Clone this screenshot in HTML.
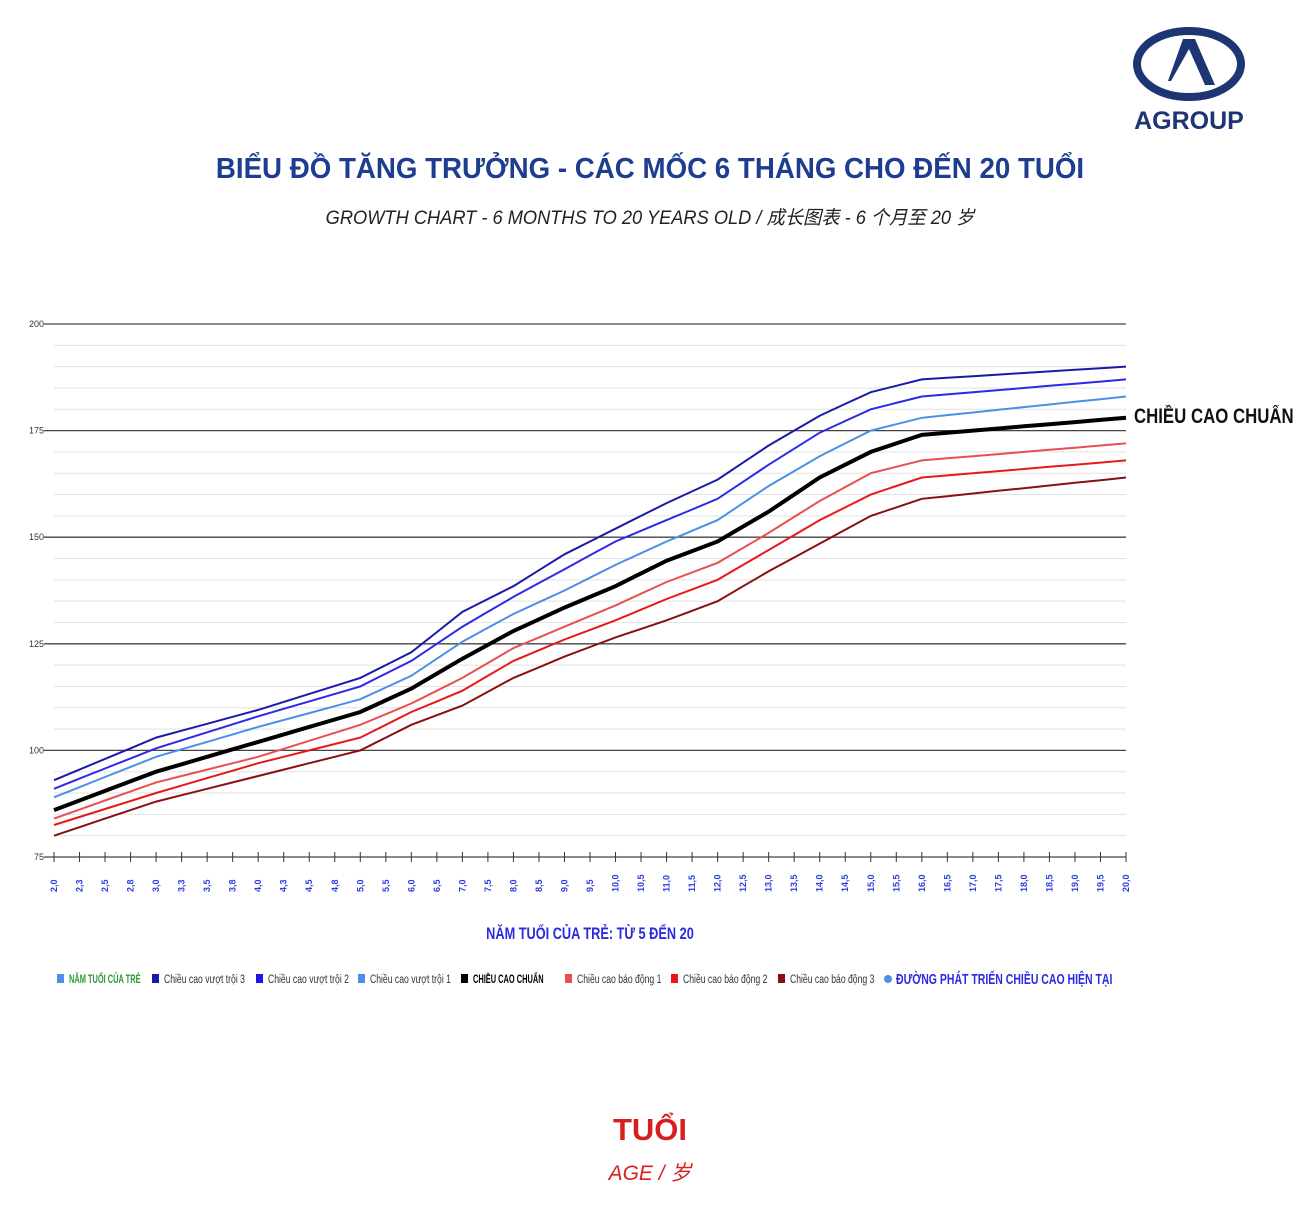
<!DOCTYPE html>
<html><head><meta charset="utf-8"><style>
body{margin:0;width:1300px;height:1208px;background:#fff;position:relative;overflow:hidden;font-family:"Liberation Sans","Noto Sans CJK SC",sans-serif}
.t{position:absolute;left:0;width:1300px;text-align:center}
</style></head><body>
<svg width="130" height="110" style="position:absolute;left:1125px;top:25px" viewBox="0 0 130 110">
<ellipse cx="64" cy="39" rx="52" ry="33" fill="none" stroke="#1d3573" stroke-width="8"/>
<polygon points="58,14 70,14 90,60 80,60 64,24 46,56 43,56" fill="#1d3573"/>
<text x="64" y="104" text-anchor="middle" font-family="Liberation Sans" font-weight="bold" font-size="25" fill="#1d3573">AGROUP</text>
</svg>
<div class="t" style="top:153px;font-size:29px;font-weight:bold;color:#1e3d8f;transform:scaleX(0.955)">BIỂU ĐỒ TĂNG TRƯỞNG - CÁC MỐC 6 THÁNG CHO ĐẾN 20 TUỔI</div>
<div class="t" style="top:203px;font-size:19px;font-style:italic;color:#222;transform:scaleX(0.96)">GROWTH CHART - 6 MONTHS TO 20 YEARS OLD / 成长图表 - 6 个月至 20 岁</div>
<div style="position:absolute;left:1134px;top:405px;font-size:21px;font-weight:bold;color:#111;white-space:nowrap;transform:scaleX(0.8);transform-origin:left">CHIỀU CAO CHUẨN</div>
<svg id="c" width="1300" height="1208" style="position:absolute;left:0;top:0"></svg>
<div class="t" style="top:1112px;font-size:31px;font-weight:bold;color:#d81f1f;">TUỔI</div>
<div class="t" style="top:1157px;font-size:21px;font-style:italic;color:#d81f1f;">AGE / 岁</div>
<script>
var s='',X0=54,X1=1126,dx=(X1-X0)/42;
function Y(v){return 857-(v-75)*533/125}
for(var v=75;v<=200;v+=5){var y=Y(v);var major=v%25==0;
s+='<line x1="'+(major?44:54)+'" x2="1126" y1="'+y+'" y2="'+y+'" stroke="'+(major?'#444':'#e2e2e2')+'" stroke-width="'+(major?1.3:1)+'"/>';
if(major)s+='<text x="44" y="'+(y+3)+'" font-size="9" text-anchor="end" fill="#333">'+v+'</text>';}
var labs=['2,0','2,3','2,5','2,8','3,0','3,3','3,5','3,8','4,0','4,3','4,5','4,8'];
for(var a=5;a<=20;a+=0.5)labs.push(a.toFixed(1).replace('.',','));
for(var i=0;i<43;i++){var x=X0+i*dx;s+='<line x1="'+x+'" x2="'+x+'" y1="852" y2="862" stroke="#333"/>';
s+='<text transform="translate('+(x+3)+',892) rotate(-90)" font-size="9" font-weight="bold" fill="#2a3ee0">'+labs[i]+'</text>';}
// index of age: 2->0,3->4,4->8,5->12, then age a -> 12+(a-5)*2
function ser(m){var keys=Object.keys(m).map(Number).sort(function(a,b){return a-b});var out=[];
for(var i=0;i<=42;i++){var v;if(m[i]!==undefined)v=m[i];else{for(var j=0;j<keys.length-1;j++)if(keys[j]<i&&keys[j+1]>i){var a=keys[j],b=keys[j+1];v=m[a]+(m[b]-m[a])*(i-a)/(b-a);}}
out.push((X0+i*dx).toFixed(1)+','+Y(v).toFixed(1));}return out.join(' ');}
var idx=[0,4,8,12,14,16,18,20,22,24,26,28,30,32,34,42];
var D={
u3:[93,103,109.5,117,123,132.5,138.5,146,152,158,163.5,171.5,178.5,184,187,190],
u2:[91,100.5,108,115,121,129,136,142.5,149,154,159,167,174.5,180,183,187],
u1:[89,98.5,105.5,112,117.5,125.5,132,137.5,143.5,149,154,162,169,175,178,183],
b:[86,95,102,109,114.5,121.5,128,133.5,138.5,144.5,149,156,164,170,174,178],
l1:[84,92.5,98.5,106,111,117,124,129,134,139.5,144,151,158.5,165,168,172],
l2:[82.5,90,97,103,109,114,121,126,130.5,135.5,140,147,154,160,164,168],
l3:[80,88,94,100,106,110.5,117,122,126.5,130.5,135,142,148.5,155,159,164]};
function mk(arr){var m={};idx.forEach(function(k,j){m[k]=arr[j]});return m;}
var S=[['#1a1aa8',2,'u3'],['#2a2ae8',2,'u2'],['#4a90e8',2,'u1'],['#e85050',2,'l1'],['#e81818',2,'l2'],['#8a1010',2,'l3'],['#000',4,'b']];
S.forEach(function(a){s+='<polyline fill="none" stroke="'+a[0]+'" stroke-width="'+a[1]+'" points="'+ser(mk(D[a[2]]))+'"/>';});
s+='<text x="590" y="939" text-anchor="middle" font-size="17" font-weight="bold" fill="#2a2ae0" transform="translate(590,0) scale(0.75,1) translate(-590,0)">NĂM TUỔI CỦA TRẺ: TỪ 5 ĐẾN 20</text>';
var L=[[57,'#4a90e8','NĂM TUỔI CỦA TRẺ','#2a9a3a',1],[152,'#1a1aa8','Chiều cao vượt trội 3','#333',0],[256,'#1a1ae8','Chiều cao vượt trội 2','#333',0],[358,'#4a90e8','Chiều cao vượt trội 1','#333',0],[461,'#000','CHIỀU CAO CHUẨN','#000',1],[565,'#e85050','Chiều cao báo động 1','#333',0],[671,'#e81818','Chiều cao báo động 2','#333',0],[778,'#8a1010','Chiều cao báo động 3','#333',0]];
L.forEach(function(l){s+='<rect x="'+l[0]+'" y="974" width="7" height="9" fill="'+l[1]+'"/><text x="'+(l[0]+12)+'" y="983" font-size="12" '+(l[4]?'font-weight="bold"':'')+' fill="'+l[3]+'" transform="translate('+(l[0]+12)+',0) scale('+(l[4]?0.62:0.72)+',1) translate('+(-l[0]-12)+',0)">'+l[2]+'</text>';});
s+='<circle cx="888" cy="979" r="4" fill="#4a90e8"/><text x="896" y="984" font-size="15" font-weight="bold" fill="#2a2ae0" transform="translate(896,0) scale(0.7,1) translate(-896,0)">ĐƯỜNG PHÁT TRIỂN CHIỀU CAO HIỆN TẠI</text>';
document.getElementById('c').innerHTML=s;
</script>
</body></html>
